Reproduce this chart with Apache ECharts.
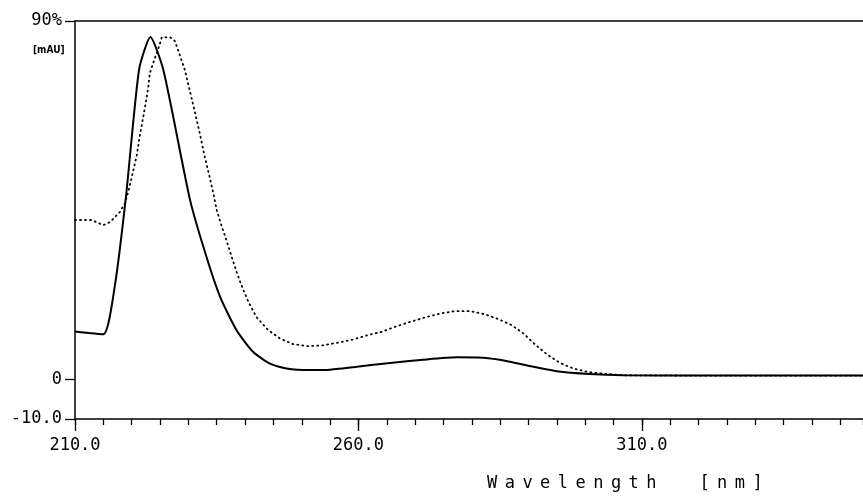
<!DOCTYPE html>
<html>
<head>
<meta charset="utf-8">
<script src="https://cdn.jsdelivr.net/npm/echarts@6/dist/echarts.min.js"></script>
<style>
  html, body { margin: 0; padding: 0; background: #fff; }
  #chart { width: 863px; height: 497px; }
</style>
</head>
<body>
<div id="chart"></div>
<script>
// solid trace
var solidNm = [210, 215, 217, 219, 221.3, 223.3, 225.6, 230.3, 233.2, 235.6, 238.5, 241.4, 244.4, 247.3,
  251.4, 255, 259.7, 265.6, 271.4, 277.3, 282, 286.1, 290.2, 295, 300.8, 306.7, 320, 335, 349]
var solidAbs = [12.0, 11.3, 23.2, 46, 77.8, 86, 77.6, 45.0, 30.7, 20.7, 12.3, 6.9, 3.9, 2.7,
  2.3, 2.4, 3.1, 4.1, 4.9, 5.5, 5.4, 4.6, 3.3, 2.0, 1.3, 1.0, 0.9, 0.9, 0.9]

// dotted trace
var dotNm = [210, 212.9, 215, 216.2, 217.9, 218.8, 219.4, 220.3, 220.9, 221.5, 222.0, 222.5, 222.9, 223.2, 224.1,
  224.9, 225.3, 226.8, 227.6, 228.5, 229.4, 230.3, 231.2, 232.0, 232.9, 233.8, 234.4, 235.0, 235.7, 236.5,
  237.0, 237.8, 238.5, 239.1, 239.7, 240.6, 242.0, 244.1, 246.2, 248.5, 251.1, 253.8, 256.4, 259.1, 261.7,
  264.1, 266.7, 269.1, 271.7, 274.4, 277.0, 279.7, 282.3, 284.7, 287.0, 289.1, 291.1, 293.2, 295.5, 297.9,
  300.5, 303.2, 306.7, 320, 335, 349]
var dotAbs = [40.0, 40.0, 38.7, 39.5, 42.0, 44.2, 47.1, 52.5, 56.3, 61.8, 65.6, 69.6, 73.1, 76.9, 80.7,
  83.9, 85.9, 85.9, 85.0, 81.4, 77.6, 72.2, 66.8, 61.8, 55.8, 50.5, 46.7, 42.5, 39.2, 35.8,
  33.6, 30.0, 27.0, 24.6, 22.4, 19.4, 15.6, 12.3, 10.2, 8.8, 8.3, 8.5, 9.2, 10.0, 11.1,
  11.9, 13.3, 14.4, 15.5, 16.5, 17.1, 17.1, 16.3, 15.1, 13.6, 11.5, 8.8, 6.3, 4.1, 2.7,
  1.8, 1.4, 1.0, 0.9, 0.9, 0.9]

var xLabelValues = [210, 260, 310]
var yLabelValues = [-10, 0, 90]
var yLabelText = { '-10': '-10.0', '0': '0', '90': '90%' }
var yUnit = '[mAU]'
var xTitle = 'Wavelength  [nm]'

var FONT = 'DejaVu Sans Mono'

function zip(xs, ys) {
  return xs.map(function (x, i) { return [x, ys[i]] })
}

// monospace plotter look: every character in its own fixed cell
var xTitleRich = xTitle.split('').map(function (c) {
  return '{c|' + (c === ' ' ? '\u00a0' : c) + '}'
}).join('')

var chart = echarts.init(document.getElementById('chart'))
chart.setOption({
  animation: false,
  backgroundColor: '#fff',
  grid: { left: 75, right: 0, top: 21, bottom: 78, outerBoundsMode: 'none' },
  xAxis: [
    {
      type: 'value', position: 'bottom', min: 210, max: 349, interval: 5,
      axisLine: { onZero: false, lineStyle: { color: '#000', width: 1.5 } },
      axisTick: { length: 6, lineStyle: { color: '#000', width: 1.3 } },
      axisLabel: {
        customValues: xLabelValues, margin: 18, color: '#000',
        fontFamily: FONT, fontSize: 17,
        formatter: function (v) { return v.toFixed(1) }
      },
      splitLine: { show: false }
    },
    {
      type: 'value', position: 'bottom', min: 210, max: 349,
      axisLine: { show: false, onZero: false },
      axisTick: { customValues: xLabelValues, length: 12, lineStyle: { color: '#000', width: 1.3 } },
      axisLabel: { show: false },
      splitLine: { show: false }
    },
    {
      type: 'value', position: 'top', min: 210, max: 349,
      axisLine: { onZero: false, lineStyle: { color: '#000', width: 1.5 } },
      axisTick: { show: false },
      axisLabel: { show: false },
      splitLine: { show: false }
    }
  ],
  yAxis: {
    type: 'value', min: -10, max: 90, interval: 10,
    axisLine: { show: true, onZero: false, lineStyle: { color: '#000', width: 1.5 } },
    axisTick: { show: true, customValues: yLabelValues, length: 10, lineStyle: { color: '#000', width: 1.3 } },
    axisLabel: {
      customValues: yLabelValues, margin: 13, color: '#000',
      fontFamily: FONT, fontSize: 17,
      formatter: function (v) { return yLabelText[String(v)] }
    },
    splitLine: { show: false }
  },
  graphic: [
    {
      type: 'text', left: 33, top: 45,
      style: { text: yUnit, fontFamily: 'DejaVu Sans Condensed', fontSize: 10, fontWeight: 'bold', fill: '#000' }
    },
    {
      type: 'text', left: 487, top: 475,
      style: {
        text: xTitleRich, fill: '#000',
        fontFamily: FONT, fontSize: 17,
        rich: { c: { width: 17.7, align: 'center', fontFamily: FONT, fontSize: 17, fill: '#000' } }
      }
    }
  ],
  series: [
    {
      type: 'line', xAxisIndex: 0, data: zip(solidNm, solidAbs),
      symbol: 'none', smooth: 0.2,
      lineStyle: { color: '#000', width: 2 }
    },
    {
      type: 'line', xAxisIndex: 0, data: zip(dotNm, dotAbs),
      symbol: 'none', smooth: false,
      lineStyle: { color: '#000', width: 1.8, type: [1, 4], cap: 'round' }
    }
  ]
})
</script>
</body>
</html>
